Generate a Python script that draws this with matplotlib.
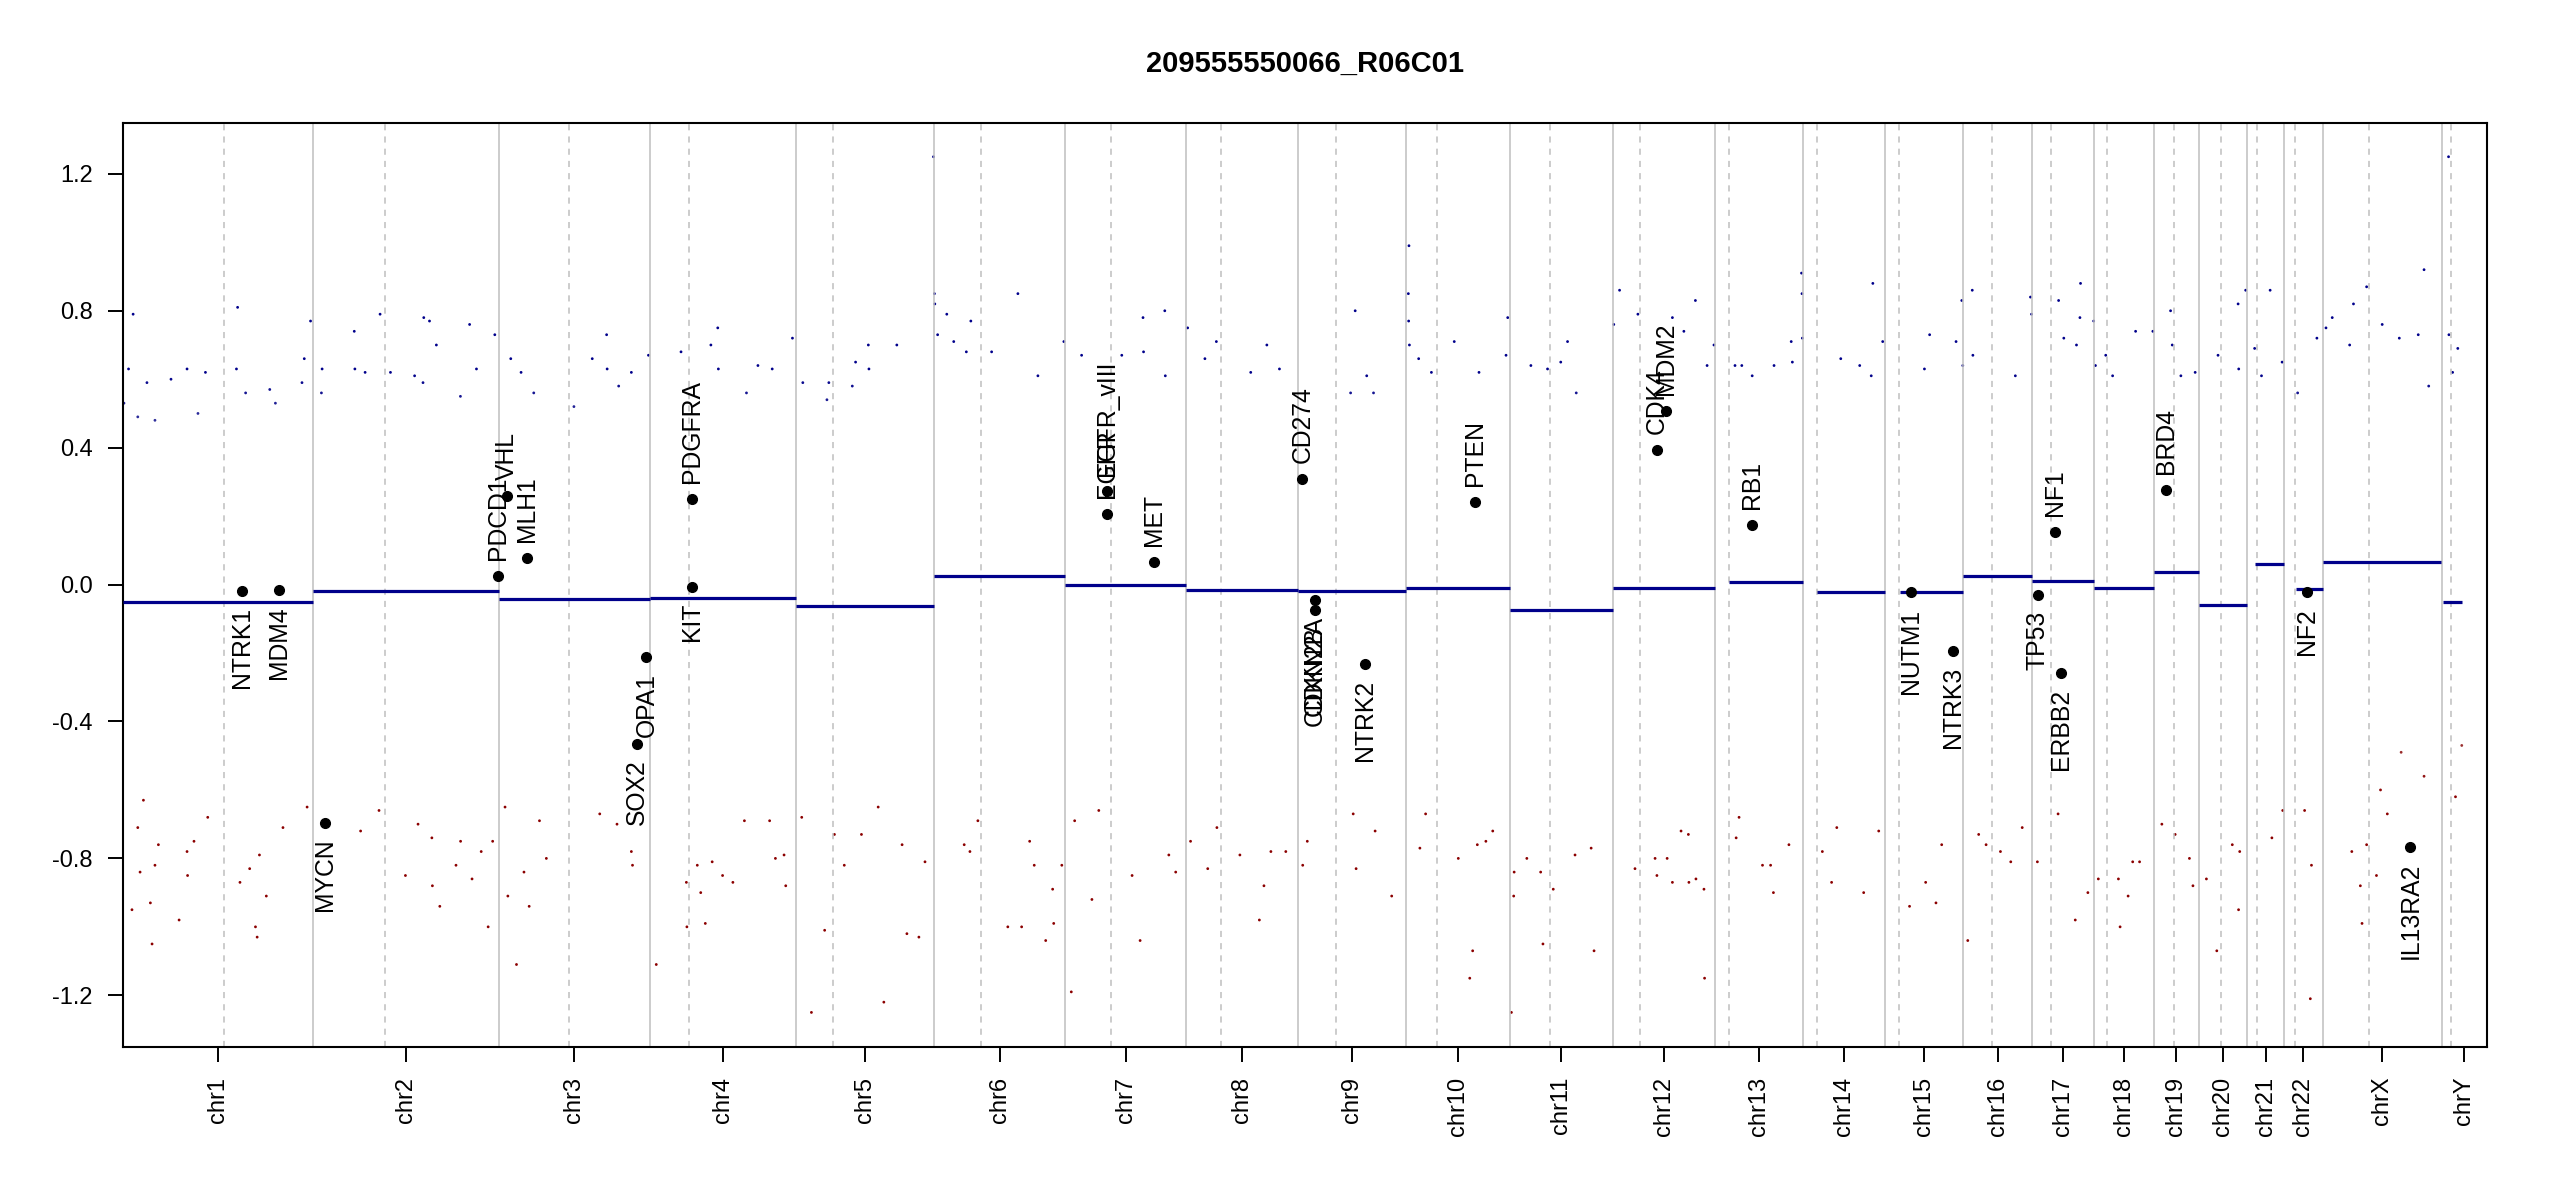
import numpy as np
import matplotlib
matplotlib.use("Agg")
import matplotlib.pyplot as plt
from matplotlib.colors import LinearSegmentedColormap, Normalize

plt.rcParams["font.family"] = ["Liberation Sans", "DejaVu Sans"]
plt.rcParams["axes.unicode_minus"] = False

title = "209555550066_R06C01"

chrom_names = ["chr1", "chr2", "chr3", "chr4", "chr5", "chr6", "chr7", "chr8",
               "chr9", "chr10", "chr11", "chr12", "chr13", "chr14", "chr15",
               "chr16", "chr17", "chr18", "chr19", "chr20", "chr21", "chr22",
               "chrX", "chrY"]
# hg19 chromosome lengths (Mb)
chrom_length_mb = [249.25, 243.20, 198.02, 191.15, 180.92, 171.12, 159.14, 146.36,
                   141.21, 135.53, 135.01, 133.85, 115.17, 107.35, 102.53, 90.35,
                   81.20, 78.08, 59.13, 63.03, 48.13, 51.30, 155.27, 59.37]
centromere_mb = [132.5, 93.7, 92.6, 51.6, 48.1, 61.1, 59.9, 45.1, 49.0, 40.8,
                 53.4, 36.4, 18.0, 18.0, 18.8, 38.1, 24.0, 16.8, 26.7, 28.4,
                 12.8, 15.0, 60.0, 12.2]

# segment means per chromosome
seg_start_mb = [0.5, 0.0, 0.0, 0.0, 0.0, 0.0, 0.0, 0.0, 0.0, 0.0, 0.0, 0.0,
                19.0, 19.0, 20.0, 0.0, 0.0, 0.0, 0.0, 0.0, 9.8, 16.0, 0.0, 1.6]
seg_end_mb = [249.0, 243.2, 198.0, 191.1, 180.9, 171.1, 159.1, 146.3, 141.2,
              135.5, 135.0, 133.8, 115.1, 107.3, 102.5, 90.3, 81.2, 78.0, 59.1,
              62.9, 48.1, 51.2, 155.0, 26.3]
seg_ratio = [-0.050, -0.019, -0.043, -0.038, -0.062, 0.026, 0.000, -0.016,
             -0.020, -0.011, -0.074, -0.011, 0.008, -0.022, -0.022, 0.026,
             0.011, -0.010, 0.036, -0.060, 0.061, -0.012, 0.066, -0.052]

# highlighted genes
gene_names = ["NTRK1", "MDM4", "MYCN", "PDCD1", "VHL", "MLH1", "SOX2", "OPA1",
              "PDGFRA", "KIT", "EGFR", "EGFR_vIII", "MET", "CD274", "CDKN2A",
              "CDKN2B", "NTRK2", "PTEN", "CDK4", "MDM2", "RB1", "NUTM1", "NTRK3",
              "TP53", "NF1", "ERBB2", "BRD4", "NF2", "IL13RA2"]
gene_chrom = ["chr1", "chr1", "chr2", "chr2", "chr3", "chr3", "chr3", "chr3",
              "chr4", "chr4", "chr7", "chr7", "chr7", "chr9", "chr9", "chr9",
              "chr9", "chr10", "chr12", "chr12", "chr13", "chr15", "chr15",
              "chr17", "chr17", "chr17", "chr19", "chr22", "chrX"]
gene_pos_mb = [156.8, 204.5, 15.9, 242.8, 10.2, 37.0, 181.4, 193.3, 55.1, 55.5,
               55.2, 55.2, 116.4, 5.46, 21.97, 22.0, 87.3, 89.7, 58.1, 69.2,
               48.9, 34.6, 88.6, 7.57, 29.5, 37.85, 15.35, 30.0, 114.2]
gene_ratio = [-0.019, -0.017, -0.696, 0.026, 0.260, 0.079, -0.465, -0.212,
              0.251, -0.006, 0.207, 0.272, 0.067, 0.308, -0.046, -0.074, -0.231,
              0.241, 0.394, 0.508, 0.174, -0.023, -0.194, -0.030, 0.153, -0.258,
              0.277, -0.023, -0.766]

# bins (chromosome, position in Mb, log2 ratio)
high_bins = [
    ("chr1", 1.7, 0.53), ("chr1", 7.7, 0.63), ("chr1", 13.7, 0.79), ("chr1", 19.8, 0.49),
    ("chr1", 31.8, 0.59), ("chr1", 42.3, 0.48), ("chr1", 63.3, 0.60), ("chr1", 84.3, 0.63),
    ("chr1", 98.6, 0.50), ("chr1", 108.4, 0.62), ("chr1", 149.0, 0.63), ("chr1", 150.5, 0.81),
    ("chr1", 161.0, 0.56), ("chr1", 192.6, 0.57), ("chr1", 200.0, 0.53), ("chr1", 234.8, 0.59),
    ("chr1", 237.8, 0.66), ("chr1", 246.0, 0.77),
    ("chr2", 11.0, 0.56), ("chr2", 11.9, 0.63), ("chr2", 54.0, 0.74), ("chr2", 54.8, 0.63),
    ("chr2", 68.2, 0.62), ("chr2", 87.8, 0.79), ("chr2", 101.4, 0.62), ("chr2", 133.0, 0.61),
    ("chr2", 144.0, 0.59), ("chr2", 145.0, 0.78), ("chr2", 152.5, 0.77), ("chr2", 161.5, 0.70),
    ("chr2", 193.0, 0.55), ("chr2", 205.0, 0.76), ("chr2", 214.0, 0.63), ("chr2", 238.0, 0.73),
    ("chr3", 15.7, 0.66), ("chr3", 29.2, 0.62), ("chr3", 45.8, 0.56), ("chr3", 98.4, 0.52),
    ("chr3", 122.4, 0.66), ("chr3", 141.2, 0.73), ("chr3", 141.9, 0.63), ("chr3", 157.0, 0.58),
    ("chr3", 173.6, 0.62), ("chr3", 196.0, 0.67),
    ("chr4", 40.6, 0.68), ("chr4", 79.7, 0.70), ("chr4", 88.7, 0.75), ("chr4", 89.5, 0.63),
    ("chr4", 126.3, 0.56), ("chr4", 141.3, 0.64), ("chr4", 160.0, 0.63), ("chr4", 186.5, 0.72),
    ("chr5", 8.9, 0.59), ("chr5", 40.5, 0.54), ("chr5", 43.0, 0.59), ("chr5", 73.7, 0.58),
    ("chr5", 78.0, 0.65), ("chr5", 94.7, 0.70), ("chr5", 95.5, 0.63), ("chr5", 132.0, 0.70),
    ("chr5", 180.0, 1.25),
    ("chr6", 0.3, 0.85), ("chr6", 0.8, 0.82), ("chr6", 4.5, 0.73), ("chr6", 16.5, 0.79),
    ("chr6", 25.6, 0.71), ("chr6", 42.1, 0.68), ("chr6", 48.0, 0.77), ("chr6", 75.2, 0.68),
    ("chr6", 109.6, 0.85), ("chr6", 135.8, 0.61), ("chr6", 169.8, 0.71),
    ("chr7", 21.9, 0.67), ("chr7", 74.5, 0.67), ("chr7", 102.3, 0.78), ("chr7", 103.0, 0.68),
    ("chr7", 130.8, 0.80), ("chr7", 131.5, 0.61),
    ("chr8", 1.6, 0.75), ("chr8", 24.2, 0.66), ("chr8", 39.2, 0.71), ("chr8", 84.2, 0.62),
    ("chr8", 105.3, 0.70), ("chr8", 121.8, 0.63),
    ("chr9", 68.6, 0.56), ("chr9", 74.6, 0.80), ("chr9", 89.7, 0.61), ("chr9", 98.6, 0.56),
    ("chr10", 3.0, 0.85), ("chr10", 3.4, 0.77), ("chr10", 3.8, 0.99), ("chr10", 4.4, 0.70),
    ("chr10", 16.5, 0.66), ("chr10", 33.2, 0.62), ("chr10", 63.1, 0.71), ("chr10", 95.5, 0.62),
    ("chr10", 130.9, 0.67), ("chr10", 133.1, 0.78),
    ("chr11", 27.9, 0.64), ("chr11", 49.7, 0.63), ("chr11", 67.0, 0.65), ("chr11", 75.9, 0.71),
    ("chr11", 87.3, 0.56),
    ("chr12", 1.4, 0.76), ("chr12", 9.0, 0.86), ("chr12", 33.0, 0.79), ("chr12", 78.2, 0.78),
    ("chr12", 93.2, 0.74), ("chr12", 108.3, 0.83), ("chr12", 123.6, 0.64), ("chr12", 132.6, 0.70),
    ("chr13", 26.3, 0.64), ("chr13", 35.2, 0.64), ("chr13", 48.8, 0.61), ("chr13", 77.4, 0.64),
    ("chr13", 99.9, 0.71), ("chr13", 101.4, 0.65), ("chr13", 113.4, 0.91), ("chr13", 114.0, 0.85),
    ("chr13", 114.5, 0.72),
    ("chr14", 49.6, 0.66), ("chr14", 74.4, 0.64), ("chr14", 89.5, 0.61), ("chr14", 91.6, 0.88),
    ("chr14", 104.5, 0.71),
    ("chr15", 51.8, 0.63), ("chr15", 58.6, 0.73), ("chr15", 93.2, 0.71), ("chr15", 100.7, 0.83),
    ("chr15", 102.0, 0.64),
    ("chr16", 11.9, 0.86), ("chr16", 12.7, 0.67), ("chr16", 68.3, 0.61), ("chr16", 88.1, 0.84),
    ("chr16", 89.5, 0.79),
    ("chr17", 34.6, 0.83), ("chr17", 41.4, 0.72), ("chr17", 58.0, 0.70), ("chr17", 62.5, 0.78),
    ("chr17", 63.3, 0.88), ("chr17", 80.5, 0.77),
    ("chr18", 1.6, 0.64), ("chr18", 15.1, 0.67), ("chr18", 24.1, 0.61), ("chr18", 54.2, 0.74),
    ("chr18", 76.8, 0.74),
    ("chr19", 21.9, 0.80), ("chr19", 24.1, 0.70), ("chr19", 35.4, 0.61), ("chr19", 54.1, 0.62),
    ("chr20", 24.9, 0.67), ("chr20", 51.2, 0.82), ("chr20", 52.0, 0.63), ("chr20", 61.1, 0.86),
    ("chr21", 9.8, 0.69), ("chr21", 18.8, 0.61), ("chr21", 30.1, 0.86), ("chr21", 45.8, 0.65),
    ("chr22", 18.0, 0.56), ("chr22", 43.2, 0.72),
    ("chrX", 3.8, 0.75), ("chrX", 12.0, 0.78), ("chrX", 34.8, 0.70), ("chrX", 39.8, 0.82),
    ("chrX", 57.0, 0.87), ("chrX", 77.4, 0.76), ("chrX", 99.8, 0.72), ("chrX", 124.6, 0.73),
    ("chrX", 132.2, 0.92), ("chrX", 138.3, 0.58),
    ("chrY", 9.0, 1.25), ("chrY", 9.5, 0.73), ("chrY", 14.3, 0.62), ("chrY", 21.1, 0.69),
]

low_bins = [
    ("chr1", 12.2, -0.95), ("chr1", 19.8, -0.71), ("chr1", 22.8, -0.84), ("chr1", 27.2, -0.63),
    ("chr1", 36.3, -0.93), ("chr1", 38.5, -1.05), ("chr1", 42.3, -0.82), ("chr1", 46.8, -0.76),
    ("chr1", 73.9, -0.98), ("chr1", 84.3, -0.78), ("chr1", 85.0, -0.85), ("chr1", 93.4, -0.75),
    ("chr1", 111.4, -0.68), ("chr1", 153.6, -0.87), ("chr1", 166.3, -0.83), ("chr1", 173.9, -1.00),
    ("chr1", 176.1, -1.03), ("chr1", 179.1, -0.79), ("chr1", 188.1, -0.91), ("chr1", 209.9, -0.71),
    ("chr1", 241.5, -0.65),
    ("chr2", 62.3, -0.72), ("chr2", 86.4, -0.66), ("chr2", 121.0, -0.85), ("chr2", 137.5, -0.70),
    ("chr2", 155.6, -0.74), ("chr2", 156.3, -0.88), ("chr2", 166.0, -0.94), ("chr2", 187.2, -0.82),
    ("chr2", 193.2, -0.75), ("chr2", 208.2, -0.86), ("chr2", 220.2, -0.78), ("chr2", 229.3, -1.00),
    ("chr2", 235.2, -0.75),
    ("chr3", 8.2, -0.65), ("chr3", 11.9, -0.91), ("chr3", 23.2, -1.11), ("chr3", 33.0, -0.84),
    ("chr3", 39.8, -0.94), ("chr3", 53.3, -0.69), ("chr3", 62.3, -0.80), ("chr3", 132.2, -0.67),
    ("chr3", 154.8, -0.70), ("chr3", 173.6, -0.78), ("chr3", 175.1, -0.82),
    ("chr4", 8.2, -1.11), ("chr4", 47.6, -0.87), ("chr4", 48.3, -1.00), ("chr4", 61.9, -0.82),
    ("chr4", 66.4, -0.90), ("chr4", 72.4, -0.99), ("chr4", 81.4, -0.81), ("chr4", 95.0, -0.85),
    ("chr4", 108.5, -0.87), ("chr4", 123.6, -0.69), ("chr4", 156.6, -0.69), ("chr4", 164.2, -0.80),
    ("chr4", 175.5, -0.79), ("chr4", 177.7, -0.88),
    ("chr5", 7.5, -0.68), ("chr5", 20.2, -1.25), ("chr5", 37.5, -1.01), ("chr5", 50.3, -0.73),
    ("chr5", 63.2, -0.82), ("chr5", 85.7, -0.73), ("chr5", 107.6, -0.65), ("chr5", 115.0, -1.22),
    ("chr5", 138.9, -0.76), ("chr5", 145.2, -1.02), ("chr5", 160.9, -1.03), ("chr5", 168.9, -0.81),
    ("chr6", 39.3, -0.76), ("chr6", 46.8, -0.78), ("chr6", 57.2, -0.69), ("chr6", 96.4, -1.00),
    ("chr6", 114.5, -1.00), ("chr6", 125.0, -0.75), ("chr6", 131.0, -0.82), ("chr6", 146.0, -1.04),
    ("chr6", 155.1, -0.89), ("chr6", 156.5, -0.99), ("chr6", 167.1, -0.82),
    ("chr7", 8.4, -1.19), ("chr7", 12.8, -0.69), ("chr7", 35.4, -0.92), ("chr7", 44.4, -0.66),
    ("chr7", 88.0, -0.85), ("chr7", 98.5, -1.04), ("chr7", 136.1, -0.79), ("chr7", 145.1, -0.84),
    ("chr8", 5.4, -0.75), ("chr8", 27.9, -0.83), ("chr8", 39.9, -0.71), ("chr8", 70.0, -0.79),
    ("chr8", 95.5, -0.98), ("chr8", 101.5, -0.88), ("chr8", 110.6, -0.78), ("chr8", 130.1, -0.78),
    ("chr9", 5.9, -0.82), ("chr9", 11.9, -0.75), ("chr9", 72.0, -0.67), ("chr9", 75.8, -0.83),
    ("chr9", 100.7, -0.72), ("chr9", 122.4, -0.91),
    ("chr10", 18.1, -0.77), ("chr10", 25.6, -0.67), ("chr10", 68.4, -0.80), ("chr10", 83.4, -1.15),
    ("chr10", 87.2, -1.07), ("chr10", 93.3, -0.76), ("chr10", 104.5, -0.75), ("chr10", 113.5, -0.72),
    ("chr11", 2.4, -1.25), ("chr11", 5.4, -0.91), ("chr11", 6.0, -0.84), ("chr11", 22.6, -0.80),
    ("chr11", 40.7, -0.84), ("chr11", 43.7, -1.05), ("chr11", 57.2, -0.89), ("chr11", 85.7, -0.79),
    ("chr11", 106.8, -0.77), ("chr11", 110.6, -1.07),
    ("chr12", 29.2, -0.83), ("chr12", 55.5, -0.80), ("chr12", 57.9, -0.85), ("chr12", 71.3, -0.80),
    ("chr12", 78.2, -0.87), ("chr12", 89.5, -0.72), ("chr12", 99.1, -0.73), ("chr12", 99.8, -0.87),
    ("chr12", 109.0, -0.86), ("chr12", 119.5, -0.89), ("chr12", 120.3, -1.15),
    ("chr13", 27.8, -0.74), ("chr13", 31.6, -0.68), ("chr13", 62.3, -0.82), ("chr13", 72.9, -0.82),
    ("chr13", 76.6, -0.90), ("chr13", 96.9, -0.76),
    ("chr14", 25.5, -0.78), ("chr14", 37.6, -0.87), ("chr14", 44.4, -0.71), ("chr14", 79.6, -0.90),
    ("chr14", 99.3, -0.72),
    ("chr15", 32.3, -0.94), ("chr15", 53.4, -0.87), ("chr15", 66.9, -0.93), ("chr15", 74.4, -0.76),
    ("chr16", 6.0, -1.04), ("chr16", 20.3, -0.73), ("chr16", 30.0, -0.76), ("chr16", 48.8, -0.78),
    ("chr16", 62.3, -0.81), ("chr16", 77.3, -0.71),
    ("chr17", 6.8, -0.81), ("chr17", 33.9, -0.67), ("chr17", 56.4, -0.98), ("chr17", 72.9, -0.90),
    ("chr18", 5.4, -0.86), ("chr18", 31.7, -0.86), ("chr18", 33.9, -1.00), ("chr18", 44.4, -0.91),
    ("chr18", 50.4, -0.81), ("chr18", 59.4, -0.81),
    ("chr19", 10.5, -0.70), ("chr19", 27.9, -0.73), ("chr19", 46.6, -0.80), ("chr19", 51.2, -0.88),
    ("chr20", 9.7, -0.86), ("chr20", 23.3, -1.07), ("chr20", 43.6, -0.76), ("chr20", 51.8, -0.95),
    ("chr20", 53.3, -0.78),
    ("chr21", 32.4, -0.74), ("chr21", 46.6, -0.66),
    ("chr22", 27.1, -0.66), ("chr22", 34.6, -1.21), ("chr22", 36.1, -0.82),
    ("chrX", 37.6, -0.78), ("chrX", 48.8, -0.88), ("chrX", 51.0, -0.99), ("chrX", 57.0, -0.76),
    ("chrX", 69.9, -0.85), ("chrX", 75.2, -0.60), ("chrX", 84.1, -0.67), ("chrX", 102.2, -0.49),
    ("chrX", 132.2, -0.56),
    ("chrY", 18.1, -0.62), ("chrY", 26.3, -0.47),
]

# genome coordinates
chrom_start = dict(zip(chrom_names, np.concatenate([[0], np.cumsum(chrom_length_mb)[:-1]])))
genome_end = float(np.sum(chrom_length_mb))

def to_genome(chrom, pos):
    return np.array([chrom_start[c] for c in chrom]) + np.asarray(pos, dtype=float)

ylim = 1.25
cmap = LinearSegmentedColormap.from_list(
    "cnv", ["darkred", "darkred", "lightgrey", "darkblue", "darkblue"])
norm = Normalize(-ylim, ylim)

fig = plt.figure(figsize=(25.5, 12), dpi=100)
ax = fig.add_axes([0.0481, 0.1278, 0.9272, 0.7701])

bins = high_bins + low_bins
b_chrom, b_pos, b_ratio = zip(*bins)
b_x = to_genome(b_chrom, b_pos)
ax.scatter(b_x, b_ratio, s=4, c=np.array(b_ratio), cmap=cmap, norm=norm,
           linewidths=0, zorder=1)

# chromosome borders and centromeres
for name in chrom_names[1:]:
    ax.axvline(chrom_start[name], color="#bebebe", lw=1.1, zorder=2)
cen_x = to_genome(chrom_names, centromere_mb)
for cx in cen_x:
    ax.axvline(cx, color="#bebebe", lw=1.1, ls=(0, (4, 4)), zorder=2)

# segments
seg_x0 = to_genome(chrom_names, seg_start_mb)
seg_x1 = to_genome(chrom_names, seg_end_mb)
ax.hlines(seg_ratio, seg_x0, seg_x1, color="darkblue", lw=2.3, zorder=3)

# genes
gx = to_genome(gene_chrom, gene_pos_mb)
ax.plot(gx, gene_ratio, "o", color="black", ms=7, zorder=4)
for name, x, y in zip(gene_names, gx, gene_ratio):
    up = y > 0
    ax.annotate(name, (x, y), xytext=(0, 11.5 if up else -11.5),
                textcoords="offset points", rotation=90, ha="center",
                va="bottom" if up else "top", fontsize=17.8, zorder=5)

ax.set_xlim(0, genome_end)
ax.set_ylim(-ylim * 1.08, ylim * 1.08)

centers = [chrom_start[c] + l / 2 for c, l in zip(chrom_names, chrom_length_mb)]
ax.set_xticks(centers)
ax.set_xticklabels(chrom_names, rotation=90, fontsize=17)
yt = np.arange(-1.2, 1.21, 0.4)
ax.set_yticks(yt)
ax.set_yticklabels([f"{v:.1f}" for v in yt], fontsize=17)
ax.tick_params(axis="both", length=10.5, width=1.4, pad=11)
for sp in ax.spines.values():
    sp.set_linewidth(1.5)

fig.text(0.5118, 0.940, title, ha="center", va="baseline", fontsize=21,
         fontweight="bold")

fig.savefig("out.png", dpi=100)
